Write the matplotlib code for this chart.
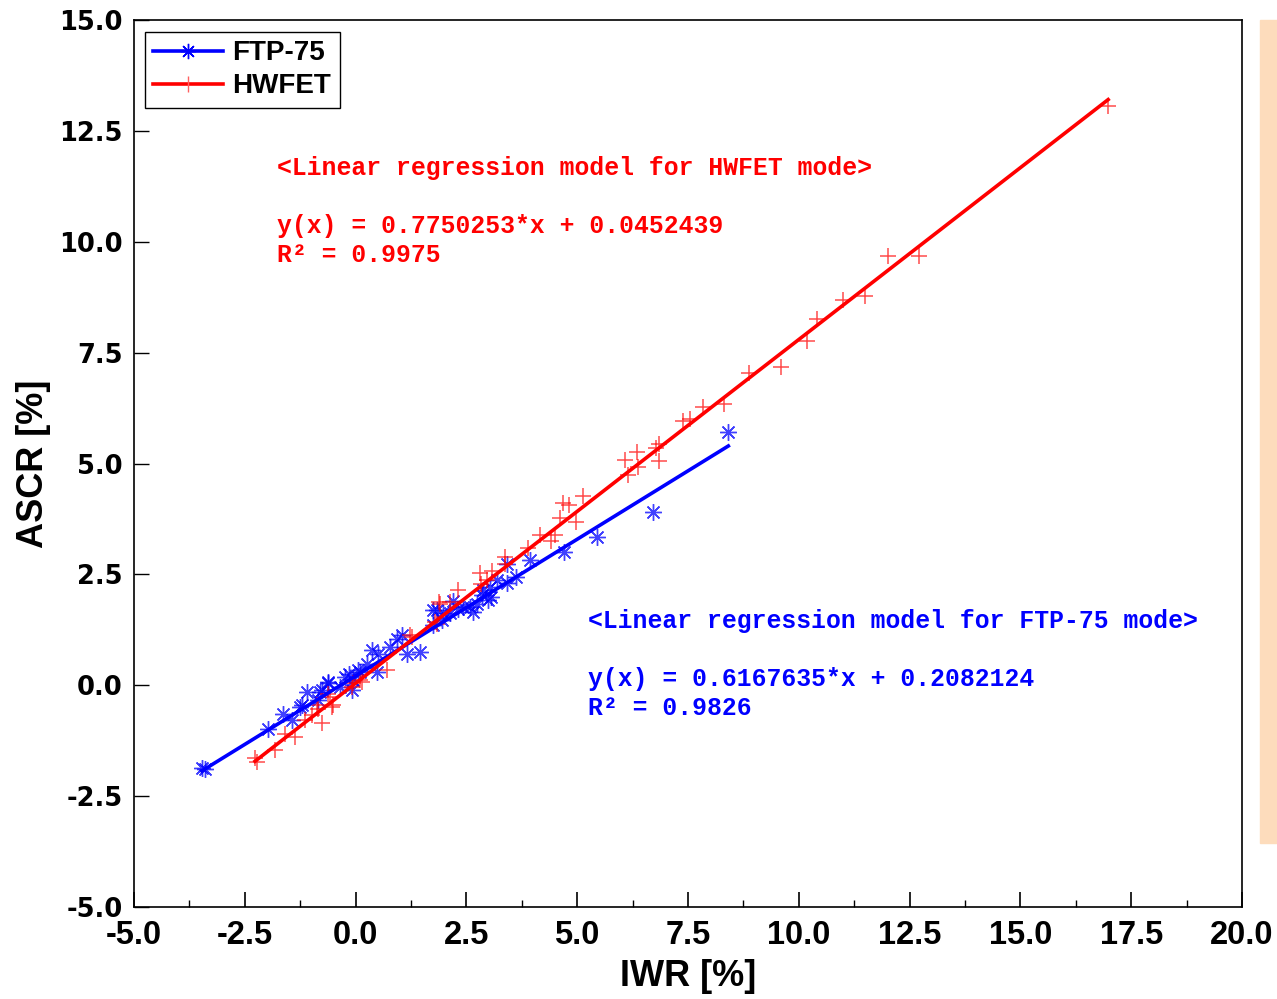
import matplotlib
matplotlib.use("Agg")
import matplotlib.pyplot as plt
import numpy as np
from matplotlib.patches import Rectangle
from matplotlib.lines import Line2D

# FTP-75 data (IWR %, ASCR %)
ftp_x = [-3.47, -3.40, -1.97, -1.63, -1.44, -1.22, -1.10, -0.80, -0.84, -0.62,
         -0.24, -0.09, 0.06, -1.25, -0.76, -0.35, -0.62, -0.16, -0.05, 0.10,
         0.48, 0.25, 0.36, 0.51, 0.78, 0.93, 1.15, 1.45, 1.83, 1.94,
         1.75, 1.75, 1.98, 2.13, 2.32, 2.43, 2.58, 2.73, 2.85, 2.99,
         2.88, 3.03, 3.18, 3.41, 3.62, 3.42, 3.94, 4.71, 5.44, 6.72,
         8.41, 1.04, 2.20, 2.65, 3.05]
ftp_y = [-1.86, -1.89, -0.98, -0.64, -0.79, -0.45, -0.15, -0.15, -0.34, 0.04,
         0.19, -0.11, 0.34, -0.49, -0.11, -0.04, 0.07, 0.26, 0.11, 0.30,
         0.30, 0.49, 0.79, 0.71, 0.86, 1.05, 0.71, 0.75, 1.69, 1.47,
         1.69, 1.35, 1.62, 1.62, 1.73, 1.77, 1.77, 1.84, 2.03, 1.92,
         2.14, 2.22, 2.38, 2.31, 2.44, 2.73, 2.82, 3.01, 3.34, 3.91,
         5.70, 1.13, 1.90, 1.65, 2.00]

# HWFET data (IWR %, ASCR %)
hw_x = [-2.27, -2.22, -1.82, -1.59, -1.37, -1.14, -0.99, -0.76, -0.84, -0.54,
        -0.62, -0.88, -0.58, -0.50, -0.09, -0.05, 0.14, 0.10, 0.70, 1.27,
        1.23, 1.79, 1.83, 1.90, 1.89, 2.13, 2.32, 2.83, 2.97, 2.81,
        3.07, 3.37, 3.37, 3.90, 4.16, 4.50, 4.40, 4.61, 4.97, 4.67,
        4.82, 5.14, 6.15, 6.37, 6.08, 6.34, 6.85, 6.77, 6.85, 7.39,
        7.55, 7.83, 8.32, 8.88, 9.59, 10.19, 10.42, 11.00, 11.49, 12.01,
        12.72, 16.98]
hw_y = [-1.65, -1.74, -1.47, -1.09, -1.17, -0.79, -0.68, -0.86, -0.53, -0.49,
        -0.19, -0.45, -0.26, -0.45, -0.04, 0.04, 0.07, 0.11, 0.34, 1.09,
        1.13, 1.43, 1.39, 1.84, 1.88, 1.88, 2.14, 2.29, 2.38, 2.52,
        2.58, 2.73, 2.89, 3.10, 3.38, 3.38, 3.25, 3.78, 3.68, 4.11,
        4.06, 4.27, 4.74, 4.92, 5.07, 5.25, 5.05, 5.34, 5.43, 5.96,
        6.01, 6.28, 6.34, 7.04, 7.18, 7.77, 8.26, 8.68, 8.77, 9.68,
        9.68, 13.06]

# Regression coefficients
ftp_slope, ftp_icpt, ftp_r2 = 0.6167635, 0.2082124, 0.9826
hw_slope, hw_icpt, hw_r2 = 0.7750253, 0.0452439, 0.9975

xticks = [-5.0, -2.5, 0.0, 2.5, 5.0, 7.5, 10.0, 12.5, 15.0, 17.5, 20.0]
yticks = [-5.0, -2.5, 0.0, 2.5, 5.0, 7.5, 10.0, 12.5, 15.0]

W, H = 1277, 999
fig = plt.figure(figsize=(W / 100, H / 100), dpi=100)
ax = fig.add_axes([134 / W, (H - 907) / H, 1108 / W, 887 / H])

blue = "#0000FF"
red = "#FF0000"
ast = (8, 2, 0)

# fitted lines
fx = np.array([min(ftp_x), max(ftp_x)])
hx = np.array([min(hw_x), max(hw_x)])
ax.plot(fx, ftp_slope * fx + ftp_icpt, color=blue, lw=2.6, zorder=3)
ax.plot(hx, hw_slope * hx + hw_icpt, color=red, lw=2.6, zorder=3)

ax.plot(ftp_x, ftp_y, ls="none", marker=ast, ms=12, mew=1.0, color=blue, alpha=0.75, zorder=2)
ax.plot(hw_x, hw_y, ls="none", marker="+", ms=12, mew=1.1, color=red, alpha=0.7, zorder=2)

# legend proxies
h1 = Line2D([], [], color=blue, lw=2.6, marker=ast, ms=11, mew=1.0)
h2 = Line2D([], [], color=red, lw=2.6, marker="|", ms=11, mew=1.0, mec="#FF6060")
leg = ax.legend([h1, h2], ["FTP-75", "HWFET"], loc="upper left",
                bbox_to_anchor=(0.0099, 0.9865), fancybox=False, framealpha=1,
                edgecolor="black", handlelength=2.5, handletextpad=0.35,
                borderpad=0.3, labelspacing=0.25, borderaxespad=0.0,
                prop={"family": "Liberation Sans", "weight": "bold", "size": 20})
leg.get_frame().set_linewidth(1.0)

ax.set_xlim(-5, 20)
ax.set_ylim(-5, 15)
ax.set_xticks(xticks)
ax.set_xticklabels([f"{v:.1f}" for v in xticks], fontfamily="Liberation Sans",
                   fontweight="bold", fontsize=23.5)
ax.set_xticks(np.arange(-3.75, 20, 2.5), minor=True)
ax.set_yticks(yticks)
ax.set_yticklabels([f"{v:.1f}" for v in yticks], fontfamily="DejaVu Sans",
                   fontweight="bold", fontsize=18.5)
ax.tick_params(axis="x", which="major", direction="in", length=11, width=1.2, pad=9)
ax.tick_params(axis="x", which="minor", direction="in", length=5, width=1.0)
ax.tick_params(axis="y", which="major", direction="in", length=11, width=1.0, pad=8)
for s in ax.spines.values():
    s.set_linewidth(1.2)

ax.set_xlabel("IWR [%]", fontfamily="Liberation Sans", fontweight="bold", fontsize=26, labelpad=6)
ax.set_ylabel("ASCR [%]", fontfamily="Liberation Sans", fontweight="bold", fontsize=26, labelpad=6)

mono = dict(fontfamily=["Liberation Mono", "DejaVu Sans Mono"], fontweight="bold", fontsize=17.8)
ax.text(-1.77, 11.66, "<Linear regression model for HWFET mode>", color=red, va="center", **mono)
ax.text(-1.77, 10.35, f"y(x) = {hw_slope:.7f}*x + {hw_icpt:.7f}", color=red, va="center", **mono)
ax.text(-1.77, 9.69, f"R\u00b2 = {hw_r2:.4f}", color=red, va="center", **mono)
ax.text(5.24, 1.44, "<Linear regression model for FTP-75 mode>", color=blue, va="center", **mono)
ax.text(5.24, 0.14, f"y(x) = {ftp_slope:.7f}*x + {ftp_icpt:.7f}", color=blue, va="center", **mono)
ax.text(5.24, -0.52, f"R\u00b2 = {ftp_r2:.4f}", color=blue, va="center", **mono)

# decorative side bar
fig.patches.append(Rectangle((1260 / W, (H - 843) / H), 17 / W, 823 / H,
                             transform=fig.transFigure, color="#FDDCBC", zorder=0))

fig.savefig("out.png", dpi=100)
